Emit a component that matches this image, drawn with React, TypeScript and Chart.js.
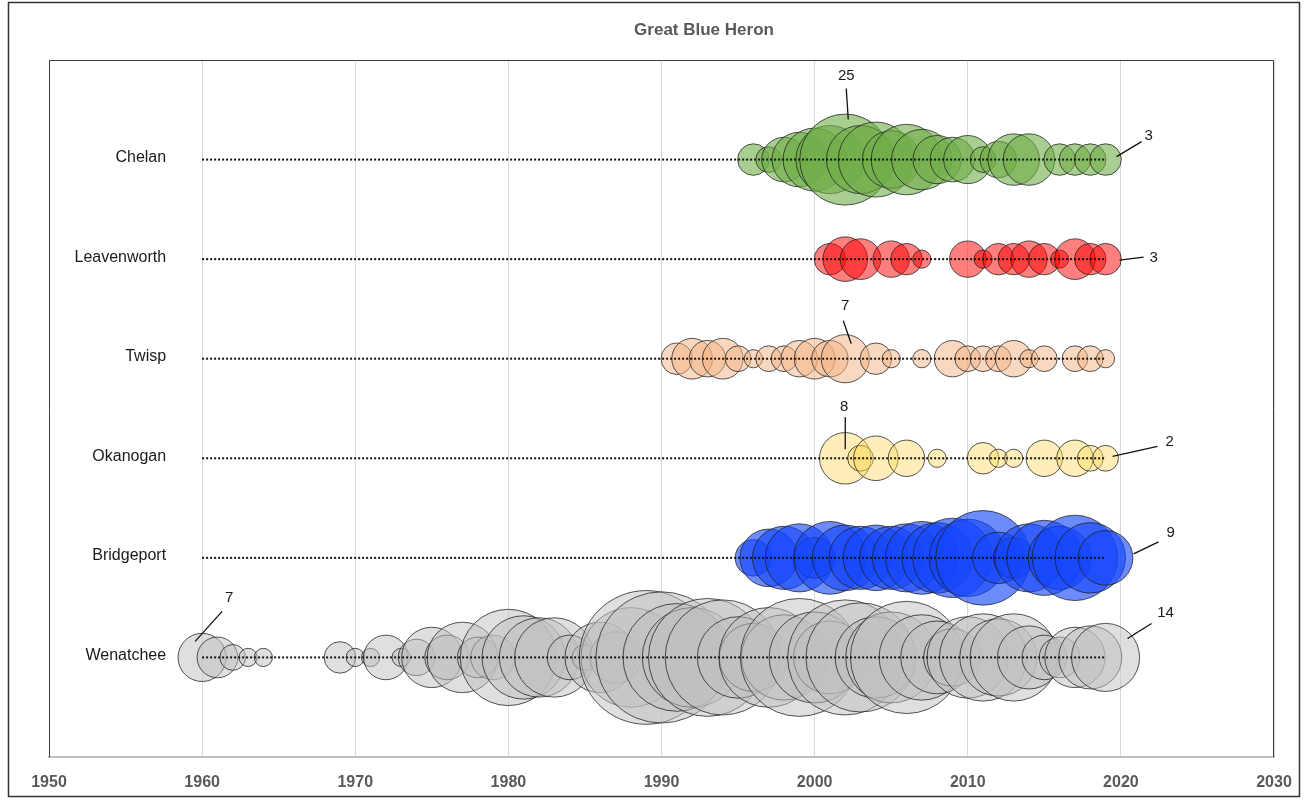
import React, { useEffect, useRef } from 'react';
import { Chart, registerables } from 'chart.js';

Chart.register(...registerables);

// ---------------- data ----------------
const TITLE = 'Great Blue Heron';
// y position 1..6 (bottom to top)
const SITES = ['Wenatchee', 'Bridgeport', 'Okanogan', 'Twisp', 'Leavenworth', 'Chelan'];
const X_TICKS = [1950, 1960, 1970, 1980, 1990, 2000, 2010, 2020, 2030];
const LINE_START = 1960;
const LINE_END = 2019;

const chelanYears = [1996, 1997, 1998, 1999, 2000, 2001, 2002, 2003, 2004, 2005, 2006, 2007, 2008, 2009, 2010, 2011, 2012, 2013, 2014, 2016, 2017, 2018, 2019];
const chelanCounts = [3, 2, 6, 9, 12, 14, 25, 14, 17, 10, 15, 11, 7, 6, 7, 2, 4, 8, 8, 3, 3, 3, 3];

const leavenworthYears = [2001, 2002, 2003, 2005, 2006, 2007, 2010, 2011, 2012, 2013, 2014, 2015, 2016, 2017, 2018, 2019];
const leavenworthCounts = [3, 6, 5, 4, 3, 1, 4, 1, 3, 3, 4, 3, 1, 5, 3, 3];

const twispYears = [1991, 1992, 1993, 1994, 1995, 1996, 1997, 1998, 1999, 2000, 2001, 2002, 2004, 2005, 2007, 2009, 2010, 2011, 2012, 2013, 2014, 2015, 2017, 2018, 2019];
const twispCounts = [3, 5, 4, 5, 2, 1, 2, 2, 4, 5, 4, 7, 3, 1, 1, 4, 2, 2, 2, 4, 1, 2, 2, 2, 1];

const okanoganYears = [2002, 2003, 2004, 2006, 2008, 2011, 2012, 2013, 2015, 2017, 2018, 2019];
const okanoganCounts = [8, 2, 6, 4, 1, 3, 1, 1, 4, 4, 2, 2];

const bridgeportYears = [1996, 1997, 1998, 1999, 2000, 2001, 2002, 2003, 2004, 2005, 2006, 2007, 2008, 2009, 2010, 2011, 2012, 2013, 2014, 2015, 2016, 2017, 2018, 2019];
const bridgeportCounts = [4, 10, 12, 14, 5, 16, 13, 12, 13, 12, 14, 16, 15, 19, 18, 27, 8, 5, 14, 17, 12, 22, 15, 9];

const wenatcheeYears = [1960, 1961, 1962, 1963, 1964, 1969, 1970, 1971, 1972, 1973, 1974, 1975, 1976, 1977, 1978, 1979, 1980, 1981, 1982, 1983, 1984, 1985, 1986, 1987, 1988, 1989, 1990, 1991, 1992, 1993, 1994, 1995, 1996, 1997, 1998, 1999, 2000, 2001, 2002, 2003, 2004, 2005, 2006, 2007, 2008, 2009, 2010, 2011, 2012, 2013, 2014, 2015, 2016, 2017, 2018, 2019];
const wenatcheeCounts = [7, 5, 2, 1, 1, 3, 1, 1, 6, 1, 4, 11, 6, 15, 5, 6, 28, 21, 19, 19, 6, 2, 15, 8, 30, 54, 52, 35, 30, 42, 40, 20, 14, 30, 22, 42, 25, 16, 40, 36, 20, 25, 38, 22, 16, 10, 20, 23, 18, 23, 12, 6, 5, 11, 12, 14];

// labelled bubbles (value shown from data)
const CALLOUTS = [
  { site: 'Chelan', year: 2002 },
  { site: 'Chelan', year: 2019 },
  { site: 'Leavenworth', year: 2019 },
  { site: 'Twisp', year: 2002 },
  { site: 'Okanogan', year: 2002 },
  { site: 'Okanogan', year: 2019 },
  { site: 'Bridgeport', year: 2019 },
  { site: 'Wenatchee', year: 1960 },
  { site: 'Wenatchee', year: 2019 },
];

// ---------------- styling ----------------
const SERIES: Record<string, { years: number[]; counts: number[]; fill: string }> = {
  Chelan: { years: chelanYears, counts: chelanCounts, fill: 'rgba(112,173,71,0.6)' },
  Leavenworth: { years: leavenworthYears, counts: leavenworthCounts, fill: 'rgba(255,0,0,0.5)' },
  Twisp: { years: twispYears, counts: twispCounts, fill: 'rgba(244,177,131,0.5)' },
  Okanogan: { years: okanoganYears, counts: okanoganCounts, fill: 'rgba(255,217,102,0.45)' },
  Bridgeport: { years: bridgeportYears, counts: bridgeportCounts, fill: 'rgba(20,70,250,0.62)' },
  Wenatchee: { years: wenatcheeYears, counts: wenatcheeCounts, fill: 'rgba(191,191,191,0.5)' },
};
const K = 9.1; // px radius per sqrt(count)
const FONT = "'Liberation Sans', Arial, sans-serif";

// text / leader geometry relative to bubble centre
const CALLOUT_GEOM: Record<string, { tx: number; ty: number; x1: number; y1: number; x2: number; y2: number }> = {
  'Chelan-2002': { tx: 1, ty: -84, x1: 1, y1: -71, x2: 3, y2: -40 },
  'Chelan-2019': { tx: 43, ty: -24, x1: 36, y1: -18, x2: 11, y2: -3 },
  'Leavenworth-2019': { tx: 48, ty: -1, x1: 38, y1: -2, x2: 14, y2: 1 },
  'Twisp-2002': { tx: 0, ty: -53, x1: -2, y1: -38, x2: 6, y2: -15 },
  'Okanogan-2002': { tx: -1, ty: -51, x1: 0, y1: -41, x2: 0, y2: -9 },
  'Okanogan-2019': { tx: 64, ty: -16, x1: 52, y1: -12, x2: 7, y2: -2 },
  'Bridgeport-2019': { tx: 65, ty: -25, x1: 53, y1: -16, x2: 28, y2: -4 },
  'Wenatchee-1960': { tx: 27, ty: -60, x1: 20, y1: -46, x2: -7, y2: -16 },
  'Wenatchee-2019': { tx: 60, ty: -45, x1: 46, y1: -34, x2: 22, y2: -19 },
};

const decorPlugin = {
  id: 'decor',
  beforeDraw(chart: any) {
    const { ctx, width, height } = chart;
    ctx.save();
    ctx.fillStyle = '#ffffff';
    ctx.fillRect(0, 0, width, height);
    ctx.restore();
  },
  afterDatasetsDraw(chart: any) {
    const { ctx, chartArea, scales } = chart;
    const { left, top, right, bottom } = chartArea;
    const xs = scales.x;
    const ys = scales.y;
    ctx.save();
    // plot-area border
    ctx.strokeStyle = '#3c3c3c';
    ctx.lineWidth = 1;
    ctx.beginPath();
    ctx.moveTo(left + 0.5, bottom);
    ctx.lineTo(left + 0.5, top + 0.5);
    ctx.lineTo(right - 0.5, top + 0.5);
    ctx.lineTo(right - 0.5, bottom);
    ctx.stroke();
    // outer frame
    ctx.strokeStyle = '#333333';
    ctx.lineWidth = 1.5;
    ctx.strokeRect(8.5, 2.5, 1291, 794);
    // title
    ctx.fillStyle = '#595959';
    ctx.font = `bold 17px ${FONT}`;
    ctx.textAlign = 'center';
    ctx.textBaseline = 'middle';
    ctx.fillText(TITLE, 704, 30);
    // site labels
    ctx.fillStyle = '#1a1a1a';
    ctx.font = `16px ${FONT}`;
    ctx.textAlign = 'right';
    SITES.forEach((s, i) => {
      ctx.fillText(s, xs.getPixelForValue(LINE_START) - 36, ys.getPixelForValue(i + 1) - 2);
    });
    // callouts
    ctx.font = `15px ${FONT}`;
    ctx.textAlign = 'center';
    ctx.strokeStyle = '#111111';
    ctx.lineWidth = 1.3;
    CALLOUTS.forEach((c) => {
      const ser = SERIES[c.site];
      const idx = ser.years.indexOf(c.year);
      if (idx < 0) return;
      const cx = xs.getPixelForValue(c.year);
      const cy = ys.getPixelForValue(SITES.indexOf(c.site) + 1);
      const g = CALLOUT_GEOM[`${c.site}-${c.year}`];
      ctx.beginPath();
      ctx.moveTo(cx + g.x1, cy + g.y1);
      ctx.lineTo(cx + g.x2, cy + g.y2);
      ctx.stroke();
      ctx.fillText(String(ser.counts[idx]), cx + g.tx, cy + g.ty);
    });
    ctx.restore();
  },
};

export default function App() {
  const canvasRef = useRef<HTMLCanvasElement | null>(null);

  useEffect(() => {
    document.body.style.margin = '0';
    const canvas = canvasRef.current;
    if (!canvas) return;

    const lineSets = SITES.map((s, i) => ({
      type: 'line' as const,
      label: `${s} line`,
      data: [
        { x: LINE_START, y: i + 1 },
        { x: LINE_END, y: i + 1 },
      ],
      borderColor: '#111111',
      borderWidth: 2,
      borderDash: [2, 2],
      pointRadius: 0,
      fill: false,
      order: 0,
    }));

    // draw order: Chelan ... Wenatchee (last index is drawn first)
    const bubbleSites = ['Chelan', 'Leavenworth', 'Twisp', 'Okanogan', 'Bridgeport', 'Wenatchee'];
    const bubbleSets = bubbleSites.map((s) => {
      const ser = SERIES[s];
      const yv = SITES.indexOf(s) + 1;
      return {
        type: 'bubble' as const,
        label: s,
        data: ser.years.map((yr, j) => ({ x: yr, y: yv, v: ser.counts[j] })),
        backgroundColor: ser.fill,
        borderColor: 'rgba(30,30,30,0.75)',
        borderWidth: 1,
        radius: (ctx: any) => (ctx.raw ? K * Math.sqrt(ctx.raw.v) : 0),
        order: 1,
      };
    });

    const chart = new Chart(canvas, {
      type: 'bubble',
      data: { datasets: [...lineSets, ...bubbleSets] as any },
      options: {
        animation: false,
        responsive: false,
        devicePixelRatio: 1,
        layout: { autoPadding: false, padding: { left: 49, right: 30, top: 60, bottom: 0 } },
        plugins: {
          legend: { display: false },
          tooltip: { enabled: false },
          title: { display: false },
        },
        scales: {
          x: {
            type: 'linear',
            min: X_TICKS[0],
            max: X_TICKS[X_TICKS.length - 1],
            afterBuildTicks: (scale: any) => {
              scale.ticks = X_TICKS.map((v) => ({ value: v }));
            },
            afterFit: (scale: any) => {
              scale.height = 43;
              scale.paddingLeft = 0;
              scale.paddingRight = 0;
            },
            ticks: {
              callback: (v: any) => String(v),
              color: '#595959',
              font: { family: FONT, size: 16, weight: 'bold' },
              padding: 16,
              maxRotation: 0,
              autoSkip: false,
            },
            grid: { color: '#D9D9D9', lineWidth: 1, drawTicks: false },
            border: { display: true, color: '#BFBFBF', width: 2 },
          },
          y: {
            type: 'linear',
            min: 0,
            max: 7,
            display: false,
          },
        },
      },
      plugins: [decorPlugin],
    } as any);

    return () => chart.destroy();
  }, []);

  return (
    <div style={{ width: 1304, height: 800, position: 'relative' }}>
      <canvas ref={canvasRef} width={1304} height={800} style={{ display: 'block' }} />
    </div>
  );
}
